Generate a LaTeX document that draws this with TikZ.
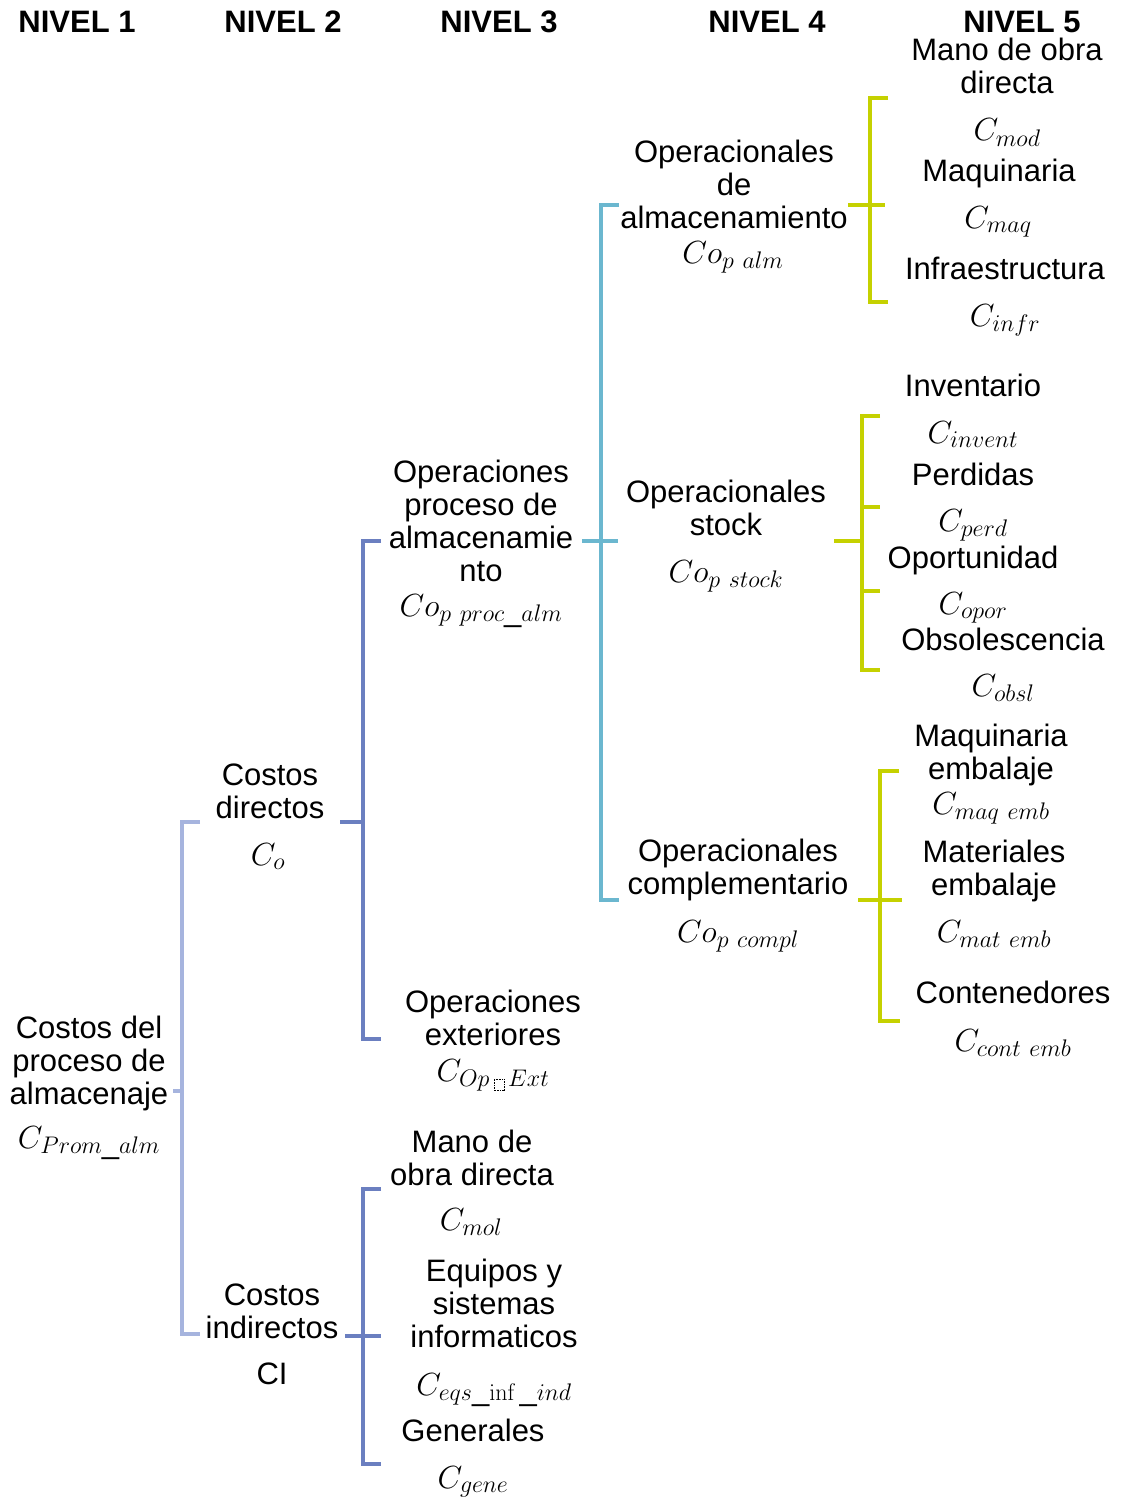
\documentclass[tikz,border=0pt]{standalone}
\usepackage{fix-cm}
\usepackage[no-math]{fontspec}
\setmainfont{Liberation Sans}
\DeclareMathSizes{31}{32}{24}{18}
\definecolor{lvlA}{HTML}{A6B4DE}
\definecolor{lvlB}{HTML}{6B7FC0}
\definecolor{lvlC}{HTML}{6BB7CF}
\definecolor{lvlD}{HTML}{C5D100}
\tikzset{
  lbl/.style={font=\fontsize{31}{33}\selectfont, align=center, inner sep=0pt, anchor=base},
  hdr/.style={font=\fontsize{31}{33}\selectfont\bfseries, inner sep=0pt, anchor=base},
  sym/.style={font=\fontsize{31}{33}\selectfont, inner sep=0pt, anchor=base},
  brace/.style={line width=3.5pt},
}
\begin{document}
\begin{tikzpicture}[x=1pt,y=-1pt]
\useasboundingbox (0,0) rectangle (1125,1501);

% column headings
\node[hdr] (h1) at (77,33)   {NIVEL 1};
\node[hdr] (h2) at (283,33)  {NIVEL 2};
\node[hdr] (h3) at (499,33)  {NIVEL 3};
\node[hdr] (h4) at (767,33)  {NIVEL 4};
\node[hdr] (h5) at (1022,33) {NIVEL 5};

% level 1 (multi-line labels are placed by the baseline of their last line)
\node[lbl] (n1) at (89,1104) {Costos del\\proceso de\\almacenaje};
\node[sym] (s1) at (89,1148) {$C_{Prom\_alm}$};

% level 2
\node[lbl] (n2a) at (270,818)  {Costos\\directos};
\node[sym] (s2a) at (268,865)  {$C_o$};
\node[lbl] (n2b) at (272,1338) {Costos\\indirectos};
\node[sym] (s2b) at (272,1384) {CI};

% level 3
\node[lbl] (n3a) at (481,581)  {Operaciones\\proceso de\\almacenamie\\nto};
\node[sym] (s3a) at (481,616)  {$Co_{p\ proc\_alm}$};
\node[lbl] (n3b) at (493,1045) {Operaciones\\exteriores};
\node[sym] (s3b) at (493,1081) {$C_{Op\,\tikz[baseline=0pt]\draw[densely dotted,line width=0.6pt] (0pt,-4pt) rectangle (10pt,7pt);\,Ext}$};
\node[lbl] (n3c) at (472,1185) {Mano de\\obra directa};
\node[sym] (s3c) at (471,1230) {$C_{mol}$};
\node[lbl] (n3d) at (494,1347) {Equipos y\\sistemas\\informaticos};
\node[sym] (s3d) at (494,1395) {$C_{eqs\_\mathrm{inf}\,\_ind}$};
\node[lbl] (n3e) at (473,1441) {Generales};
\node[sym] (s3e) at (473,1488) {$C_{gene}$};

% level 4
\node[lbl] (n4a) at (734,228) {Operacionales\\de\\almacenamiento};
\node[sym] (s4a) at (733,263) {$Co_{p\ alm}$};
\node[lbl] (n4b) at (726,535) {Operacionales\\stock};
\node[sym] (s4b) at (726,582) {$Co_{p\ stock}$};
\node[lbl] (n4c) at (738,894) {Operacionales\\complementario};
\node[sym] (s4c) at (738,942) {$Co_{p\ compl}$};

% level 5
\node[lbl] (n5a) at (1007,94)  {Mano de obra\\directa};
\node[sym] (s5a) at (1007,141) {$C_{mod}$};
\node[lbl] (n5b) at (999,181)  {Maquinaria};
\node[sym] (s5b) at (998,228)  {$C_{maq}$};
\node[lbl] (n5c) at (1005,279) {Infraestructura};
\node[sym] (s5c) at (1005,326) {$C_{infr}$};
\node[lbl] (n5d) at (973,396)  {Inventario};
\node[sym] (s5d) at (973,443)  {$C_{invent}$};
\node[lbl] (n5e) at (973,485)  {Perdidas};
\node[sym] (s5e) at (973,531)  {$C_{perd}$};
\node[lbl] (n5f) at (973,568)  {Oportunidad};
\node[sym] (s5f) at (973,614)  {$C_{opor}$};
\node[lbl] (n5g) at (1003,650) {Obsolescencia};
\node[sym] (s5g) at (1003,696) {$C_{obsl}$};
\node[lbl] (n5h) at (991,779)  {Maquinaria\\embalaje};
\node[sym] (s5h) at (991,814)  {$C_{maq\ emb}$};
\node[lbl] (n5i) at (994,895)  {Materiales\\embalaje};
\node[sym] (s5i) at (994,942)  {$C_{mat\ emb}$};
\node[lbl] (n5j) at (1013,1003) {Contenedores};
\node[sym] (s5j) at (1013,1051) {$C_{cont\ emb}$};

% bracket: level 1 -> level 2
\coordinate (a0) at (173,1091);
\coordinate (a1) at (182,1091);
\coordinate (at) at (200,822);
\coordinate (ab) at (200,1334);
\draw[brace,lvlA] (at) -- (at -| a1) -- (ab -| a1) -- (ab);
\draw[brace,lvlA] (a0) -- (a1);

% bracket: costos directos -> level 3
\coordinate (b0) at (340,822);
\coordinate (b1) at (363,822);
\coordinate (bt) at (381,541);
\coordinate (bb) at (381,1039);
\draw[brace,lvlB] (bt) -- (bt -| b1) -- (bb -| b1) -- (bb);
\draw[brace,lvlB] (b0) -- (b1);

% bracket: costos indirectos -> level 3
\coordinate (c0) at (345,1336);
\coordinate (c1) at (381,1336);
\coordinate (cv) at (363,1336);
\coordinate (ct) at (381,1189);
\coordinate (cb) at (381,1464);
\draw[brace,lvlB] (ct) -- (ct -| cv) -- (cb -| cv) -- (cb);
\draw[brace,lvlB] (c0) -- (c1);

% bracket: operaciones proceso -> level 4
\coordinate (d0) at (582,541);
\coordinate (d1) at (618,541);
\coordinate (dv) at (601,541);
\coordinate (dt) at (619,205);
\coordinate (db) at (619,900);
\draw[brace,lvlC] (dt) -- (dt -| dv) -- (db -| dv) -- (db);
\draw[brace,lvlC] (d0) -- (d1);

% bracket: operacionales de almacenamiento -> level 5
\coordinate (e0) at (848,205);
\coordinate (e1) at (885,205);
\coordinate (ev) at (870,205);
\coordinate (et) at (888,98);
\coordinate (eb) at (888,302);
\draw[brace,lvlD] (et) -- (et -| ev) -- (eb -| ev) -- (eb);
\draw[brace,lvlD] (e0) -- (e1);

% bracket: operacionales stock -> level 5
\coordinate (f0) at (834,541);
\coordinate (fv) at (862,541);
\coordinate (ft) at (880,416);
\coordinate (fb) at (880,670);
\coordinate (f2) at (880,507);
\coordinate (f3) at (880,591);
\draw[brace,lvlD] (ft) -- (ft -| fv) -- (fb -| fv) -- (fb);
\draw[brace,lvlD] (f0) -- (fv);
\draw[brace,lvlD] (f2 -| fv) -- (f2);
\draw[brace,lvlD] (f3 -| fv) -- (f3);

% bracket: operacionales complementario -> level 5
\coordinate (g0) at (858,900);
\coordinate (g1) at (902,900);
\coordinate (gv) at (880,900);
\coordinate (gt) at (899,771);
\coordinate (gb) at (900,1021);
\draw[brace,lvlD] (gt) -- (gt -| gv) -- (gb -| gv) -- (gb);
\draw[brace,lvlD] (g0) -- (g1);
\end{tikzpicture}
\end{document}
